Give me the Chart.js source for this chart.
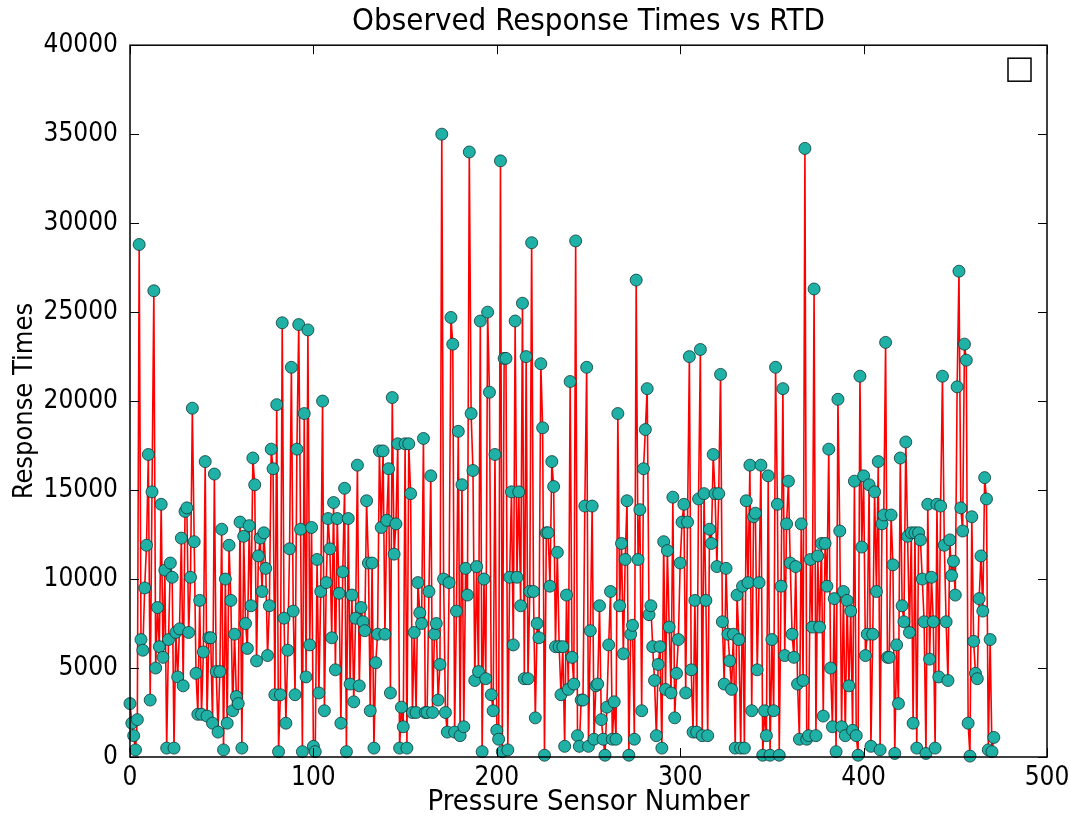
<!DOCTYPE html>
<html lang="en">
<head>
  <meta charset="UTF-8">
  <title>Observed Response Times vs RTD</title>
  <script src="https://cdn.jsdelivr.net/npm/chart.js"></script>
  <style>
    body {
      margin: 0;
      background-color: #ffffff;
    }
    #chart {
      display: block;
    }
  </style>
</head>
<body>
  <canvas id="chart" width="1069" height="816"></canvas>

  <script>
    // Response time per pressure sensor (sensor number = position)
    const responseTimes = [
      3000, 1900, 1200, 400, 2100, 28800, 6600, 6000, 9500, 11900,
      17000, 3200, 14900, 26200, 5000, 8400, 6200, 14200, 5600, 10500,
      500, 6600, 10900, 10100, 500, 7000, 4500, 7200, 12300, 4000,
      13800, 14000, 7000, 10100, 19600, 12100, 4700, 2400, 8800, 2400,
      5900, 16600, 2300, 6700, 6700, 1900, 15900, 4800, 1400, 4800,
      12800, 400, 10000, 1900, 11900, 8800, 2600, 6900, 3400, 3000,
      13200, 500, 12400, 7500, 6100, 13000, 8500, 16800, 15300, 5400,
      11300, 12300, 9300, 12600, 10600, 5700, 8500, 17300, 16200, 3500,
      19800, 300, 3500, 24400, 7800, 1900, 6000, 11700, 21900, 8200,
      3500, 17300, 24300, 12800, 300, 19300, 4500, 24000, 6300, 12900,
      600, 300, 11100, 3600, 9300, 20000, 2600, 9800, 13400, 11700,
      6700, 14300, 4900, 13400, 9200, 1900, 10400, 15100, 300, 13400,
      4100, 9100, 3100, 7800, 16400, 4000, 8400, 7600, 7100, 14400,
      10900, 2600, 10900, 500, 5300, 6900, 17200, 12900, 17200, 6900,
      13300, 16200, 3600, 20200, 11400, 13100, 17600, 500, 2800, 1700,
      17600, 500, 17600, 14800, 2500, 7000, 2500, 9800, 8100, 7500,
      17900, 2500, 2500, 9300, 15800, 2500, 6900, 7500, 3200, 5200,
      35000, 10000, 2500, 1400, 9800, 24700, 23200, 1400, 8200, 18300,
      1200, 15300, 1700, 10600, 9100, 34000, 19300, 16100, 4300, 10700,
      4800, 24500, 300, 10000, 4400, 25000, 20500, 3500, 2600, 17000,
      1500, 1000, 33500, 300, 22400, 22400, 400, 10100, 14900, 6300,
      24500, 10100, 14900, 8500, 25500, 4400, 22500, 4400, 9300, 28900,
      9300, 2200, 7500, 6700, 22100, 18500, 100, 12600, 12600, 9600,
      16600, 15200, 6200, 11500, 6200, 3500, 6200, 600, 9100, 3800,
      21100, 5600, 4100, 29000, 1200, 600, 3200, 3200, 14100, 21900,
      600, 7100, 14100, 1000, 4000, 4100, 8500, 2100, 1000, 100,
      2800, 6300, 9300, 1000, 3100, 1000, 19300, 8500, 12000, 5800,
      11100, 14400, 100, 6900, 7400, 1000, 26800, 11100, 13900, 2600,
      16200, 18400, 20700, 8000, 8500, 6200, 4300, 1200, 5200, 6200,
      500, 12100, 3800, 11600, 7300, 3600, 14600, 2200, 4700, 6600,
      10900, 13200, 14200, 3600, 13200, 22500, 4900, 1400, 8800, 1400,
      14500, 22900, 1200, 14800, 8800, 1200, 12800, 12000, 17000, 14800,
      10700, 14800, 21500, 7600, 4100, 10600, 6900, 5400, 3800, 6900,
      500, 9100, 6600, 500, 9600, 500, 14400, 9800, 16400, 2600,
      13500, 13700, 4900, 9800, 16400, 100, 2600, 1200, 15800, 100,
      6600, 2600, 21900, 14200, 100, 9600, 20700, 5700, 13100, 15500,
      10900, 6900, 5600, 10700, 4100, 1000, 13100, 4300, 34200, 1000,
      1200, 11100, 7300, 26300, 1200, 11300, 7300, 12000, 2300, 12000,
      9600, 17300, 5000, 1700, 8900, 300, 20100, 12700, 1700, 9300,
      1200, 8800, 4000, 8200, 1500, 15500, 1200, 100, 21400, 11800,
      15800, 5700, 6900, 15300, 600, 6900, 14900, 9300, 16600, 400,
      13100, 13600, 23300, 5600, 5600, 13600, 10800, 200, 6300, 3000,
      16800, 8500, 7600, 17700, 12400, 7000, 12600, 1900, 12600, 500,
      12600, 12200, 10000, 7600, 200, 14200, 5500, 10100, 7600, 500,
      14200, 4500, 14100, 21400, 11900, 7600, 4300, 12200, 10200, 11000,
      9100, 20800, 27300, 14000, 12700, 23200, 22300, 1900, 50, 13500,
      6500, 4700, 4400, 8900, 11300, 8200, 15700, 14500, 400, 6600,
      300, 1100
    ];

    const xTicks = [0, 100, 200, 300, 400, 500];
    const yTicks = [0, 5000, 10000, 15000, 20000, 25000, 30000, 35000, 40000];

    const FONT = "'DejaVu Sans Condensed', 'DejaVu Sans', sans-serif";

    // matplotlib-style frame, inward ticks on all four sides and the empty legend box
    const framePlugin = {
      id: 'frame',
      afterDraw(chart) {
        const { ctx, chartArea: a, scales } = chart;
        const len = 9;
        ctx.save();
        ctx.strokeStyle = '#000000';
        ctx.lineWidth = 1;
        ctx.beginPath();
        xTicks.forEach(t => {
          const px = Math.round(scales.x.getPixelForValue(t)) + 0.5;
          ctx.moveTo(px, a.bottom);
          ctx.lineTo(px, a.bottom - len);
          ctx.moveTo(px, a.top);
          ctx.lineTo(px, a.top + len);
        });
        yTicks.forEach(t => {
          const py = Math.round(scales.y.getPixelForValue(t)) + 0.5;
          ctx.moveTo(a.left, py);
          ctx.lineTo(a.left + len, py);
          ctx.moveTo(a.right, py);
          ctx.lineTo(a.right - len, py);
        });
        ctx.stroke();

        ctx.lineWidth = 1.5;
        ctx.strokeRect(a.left, a.top, a.right - a.left, a.bottom - a.top);

        // empty legend
        ctx.fillStyle = '#ffffff';
        ctx.fillRect(a.right - 39, a.top + 13, 23, 23);
        ctx.strokeRect(a.right - 39, a.top + 13, 23, 23);
        ctx.restore();
      }
    };

    const ctx = document.getElementById('chart').getContext('2d');

    new Chart(ctx, {
      type: 'line',
      data: {
        datasets: [
          {
            label: '',
            data: responseTimes.map((y, i) => ({ x: i, y: y })),
            borderColor: '#ff0000',
            borderWidth: 1.6,
            pointRadius: 6,
            pointBackgroundColor: '#1fb0a6',
            pointBorderColor: '#0e3836',
            pointBorderWidth: 0.8,
            tension: 0,
            clip: false
          }
        ]
      },
      options: {
        responsive: false,
        animation: false,
        devicePixelRatio: 1,
        layout: {
          padding: { top: 0, right: 22, left: 0, bottom: 0 }
        },
        plugins: {
          legend: { display: false },
          tooltip: { enabled: false },
          title: {
            display: true,
            fullSize: false,
            text: 'Observed Response Times vs RTD',
            color: '#000000',
            font: { family: FONT, size: 31, weight: 'normal' },
            padding: { top: 3, bottom: 5 }
          }
        },
        scales: {
          x: {
            type: 'linear',
            min: 0,
            max: 500,
            afterFit(scale) {
              scale.height = 59;
              scale.paddingRight = 0;
            },
            afterBuildTicks(scale) { scale.ticks = xTicks.map(v => ({ value: v })); },
            grid: { display: false, drawTicks: false },
            border: { display: false },
            ticks: {
              padding: 6,
              color: '#000000',
              font: { family: FONT, size: 26 },
              maxRotation: 0,
              callback: v => String(v)
            },
            title: {
              display: true,
              text: 'Pressure Sensor Number',
              color: '#000000',
              font: { family: FONT, size: 29 },
              padding: { top: 0, bottom: -4 }
            }
          },
          y: {
            type: 'linear',
            min: 0,
            max: 40000,
            afterFit(scale) { scale.width = 130; },
            afterBuildTicks(scale) { scale.ticks = yTicks.map(v => ({ value: v })); },
            grid: { display: false, drawTicks: false },
            border: { display: false },
            ticks: {
              padding: 12,
              color: '#000000',
              font: { family: FONT, size: 26 },
              callback: v => String(v)
            },
            title: {
              display: true,
              text: 'Response Times',
              color: '#000000',
              font: { family: FONT, size: 27 },
              padding: { top: 9, bottom: 0 }
            }
          }
        }
      },
      plugins: [framePlugin]
    });
  </script>
</body>
</html>
